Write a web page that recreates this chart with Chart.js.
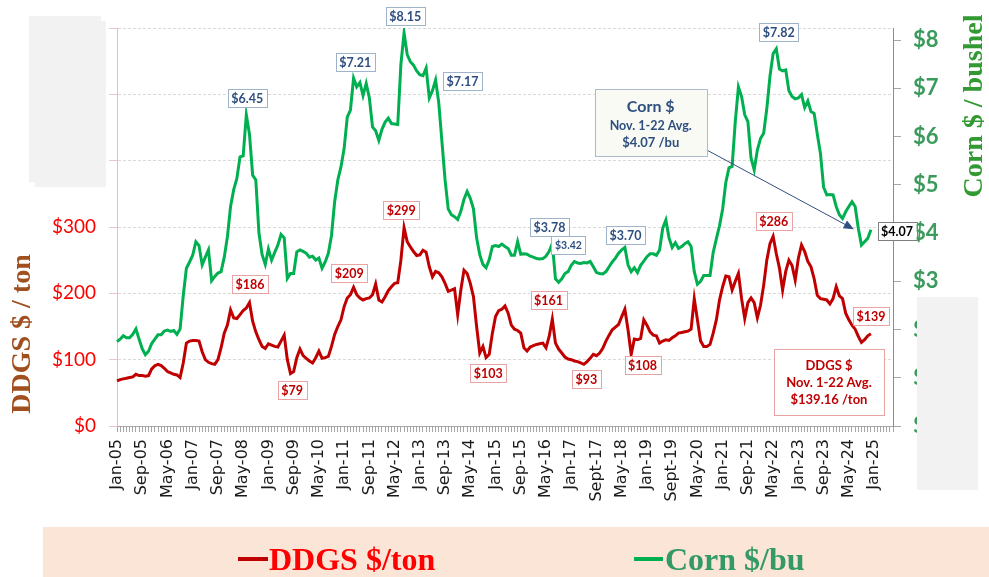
<!DOCTYPE html>
<meta charset="utf-8">
<style>
html, body {
  margin: 0;
  background: #fff;
}

#chart {
  display: block;
}
</style>
<body>

<canvas id="chart" width="989" height="577"></canvas>

<script src="https://cdn.jsdelivr.net/npm/chart.js@4.4.1/dist/chart.umd.min.js"></script>
<script type="text/javascript">
"use strict";

/* global Chart, document */

// monthly averages, Jan-05 onward
var ddgs = [
  68, 70, 71, 72, 73, 74, 78, 76, 76, 75, 76, 86,
  91, 93, 91, 87, 82, 80, 78, 77, 73, 95, 125, 128,
  129, 129, 128, 112, 100, 96, 94, 93, 100, 118, 140, 152,
  175, 163, 162, 168, 174, 178, 186, 158, 142, 130, 120, 117,
  124, 122, 120, 119, 128, 137, 100, 79, 82, 103, 116, 106,
  102, 98, 95, 103, 113, 102, 103, 105, 120, 138, 150, 160,
  180, 193, 198, 209, 198, 193, 190, 192, 193, 198, 214, 190,
  187, 195, 204, 210, 215, 216, 250, 299, 278, 270, 263, 257,
  258, 265, 262, 240, 225, 233, 231, 225, 215, 203, 205, 207,
  168, 205, 235, 230, 215, 195, 150, 110, 120, 103, 108, 140,
  165, 174, 176, 181, 170, 152, 146, 144, 140, 118, 113, 119,
  121, 123, 124, 125, 118, 135, 161, 125, 116, 110, 104, 101,
  100, 98, 97, 95, 93, 97, 102, 108, 106, 110, 117, 128,
  137, 145, 149, 153, 165, 176, 145, 108, 131, 130, 132, 160,
  152, 142, 137, 136, 125, 128, 130, 129, 133, 136, 140, 141,
  142, 143, 146, 192, 160, 128, 120, 120, 123, 140, 160, 190,
  210, 226, 225, 205, 218, 230, 192, 162, 186, 193, 186, 163,
  182, 212, 250, 275, 286, 260, 238, 205, 233, 250, 242, 220,
  253, 273, 263, 248, 240, 222, 197, 192, 191, 190, 184, 192,
  210, 196, 192, 170, 160, 152, 146, 135, 126, 130, 136, 139
];

var corn = [
  1.75, 1.80, 1.87, 1.83, 1.83, 1.90, 2.01, 1.80, 1.60, 1.48, 1.55, 1.71,
  1.80, 1.89, 1.89, 1.97, 1.99, 1.96, 1.98, 1.90, 2.01, 2.70, 3.27, 3.40,
  3.54, 3.82, 3.74, 3.34, 3.50, 3.65, 3.01, 3.10, 3.17, 3.20, 3.50, 3.92,
  4.55, 4.90, 5.13, 5.58, 5.60, 6.45, 6.05, 5.20, 5.10, 4.00, 3.55, 3.35,
  3.67, 3.44, 3.60, 3.75, 3.97, 3.90, 3.06, 3.16, 3.16, 3.61, 3.65, 3.62,
  3.58, 3.50, 3.52, 3.44, 3.48, 3.27, 3.40, 3.58, 3.95, 4.65, 5.10, 5.37,
  5.75, 6.40, 6.55, 7.21, 7.03, 7.12, 6.85, 7.10, 6.80, 6.20, 6.12, 5.92,
  6.15, 6.30, 6.38, 6.27, 6.26, 6.25, 7.50, 8.15, 7.70, 7.55, 7.48, 7.36,
  7.28, 7.26, 7.42, 6.80, 6.95, 7.17, 6.70, 5.90, 5.10, 4.50, 4.38, 4.34,
  4.28, 4.45, 4.70, 4.86, 4.72, 4.50, 3.90, 3.55, 3.35, 3.28, 3.45, 3.72,
  3.74, 3.72, 3.77, 3.72, 3.68, 3.54, 3.54, 3.82, 3.56, 3.57, 3.56, 3.52,
  3.50, 3.47, 3.46, 3.47, 3.52, 3.62, 3.78, 3.05, 2.98, 3.05, 3.16, 3.20,
  3.33, 3.41, 3.38, 3.37, 3.39, 3.38, 3.41, 3.30, 3.18, 3.16, 3.15, 3.20,
  3.30, 3.40, 3.48, 3.58, 3.65, 3.70, 3.34, 3.20, 3.28, 3.18, 3.33, 3.42,
  3.51, 3.57, 3.57, 3.54, 3.65, 4.10, 4.27, 3.90, 3.70, 3.80, 3.68, 3.72,
  3.78, 3.82, 3.72, 3.20, 2.94, 3.00, 3.12, 3.12, 3.12, 3.60, 3.88, 4.15,
  4.50, 5.05, 5.35, 5.38, 6.31, 7.03, 6.83, 6.45, 6.31, 5.55, 5.31, 5.72,
  5.96, 6.07, 6.58, 7.25, 7.72, 7.82, 7.40, 7.36, 7.38, 6.95, 6.83, 6.78,
  6.80, 6.87, 6.60, 6.74, 6.52, 6.48, 6.05, 5.65, 4.95, 4.79, 4.80, 4.79,
  4.55, 4.38, 4.30, 4.44, 4.55, 4.65, 4.55, 4.10, 3.75, 3.82, 3.89, 4.07
];

var tickLabels = [
  "Jan-05", "Sep-05", "May-06", "Jan-07", "Sep-07", "May-08", "Jan-09", "Sep-09",
  "May-10", "Jan-11", "Sep-11", "May-12", "Jan-13", "Sep-13", "May-14", "Jan-15",
  "Sep-15", "May-16", "Jan-17", "Sept-17", "May-18", "Jan-19", "Sept-19", "May-20",
  "Jan-21", "Sep-21", "May-22", "Jan-23", "Sep-23", "May-24", "Jan-25"
];

var cornTicks = [0, 1, 2, 3, 4, 5, 6, 7, 8];

var monthNames = ["Jan", "Feb", "Mar", "Apr", "May", "Jun", "Jul", "Aug", "Sep", "Oct", "Nov", "Dec"];

// axis runs Jan-05 .. Jul-25
var categories = [];
for (var k = 0; k < 247; k++) {
  categories.push(monthNames[k % 12] + "-" + String(2005 + Math.floor(k / 12)).slice(2));
}

// value tags: [text, month index, value] (tag centre, in axis units)
var cornTags = [
  ["$6.45", 41.3, 6.80],
  ["$7.21", 75.5, 7.54],
  ["$8.15", 91.4, 8.50],
  ["$7.17", 109.5, 7.15],
  ["$3.78", 137.1, 4.12],
  ["$3.70", 161.2, 3.96],
  ["$7.82", 209.8, 8.17]
];

var ddgsTags = [
  ["$186", 42.2, 214],
  ["$79", 55.5, 54],
  ["$209", 73.6, 231],
  ["$299", 90.1, 326],
  ["$103", 117.7, 80],
  ["$161", 136.8, 190],
  ["$93", 148.8, 71],
  ["$108", 166.6, 92],
  ["$286", 208.2, 309],
  ["$139", 239.0, 166]
];

var CORN_BLUE = "#2F4F80";
var DDGS_RED = "#C00000";

function tag(ctx, text, cx, cy, font, color, border, bg) {
  ctx.font = font;
  var w = ctx.measureText(text).width + 7;
  var h = 18;
  ctx.fillStyle = bg;
  ctx.fillRect(cx - w / 2, cy - h / 2, w, h);
  ctx.strokeStyle = border;
  ctx.lineWidth = 1;
  ctx.strokeRect(Math.round(cx - w / 2) + 0.5, Math.round(cy - h / 2) + 0.5, Math.round(w), h);
  ctx.fillStyle = color;
  ctx.textAlign = "center";
  ctx.textBaseline = "middle";
  ctx.fillText(text, cx, cy + 1);
}

function textBox(ctx, lines, x1, y1, x2, y2, color, border, bg) {
  ctx.fillStyle = bg;
  ctx.fillRect(x1, y1, x2 - x1, y2 - y1);
  ctx.strokeStyle = border;
  ctx.lineWidth = 1;
  ctx.strokeRect(Math.round(x1) + 0.5, Math.round(y1) + 0.5, Math.round(x2 - x1), Math.round(y2 - y1));
  ctx.fillStyle = color;
  ctx.textAlign = "center";
  ctx.textBaseline = "middle";
  lines.forEach(function (l) {
    ctx.font = l[1];
    ctx.fillText(l[0], (x1 + x2) / 2, l[2]);
  });
}

var decorations = {
  id: "decorations",
  afterDraw: function (chart) {
    var ctx = chart.ctx;
    var x = chart.scales.x, y = chart.scales.y, y1 = chart.scales.y1;
    ctx.save();

    // grey cover boxes, as in the source slide
    ctx.fillStyle = "#F2F2F2";
    ctx.fillRect(29, 16, 72, 166);
    ctx.fillRect(35, 21, 71, 166);
    ctx.fillRect(917, 297, 61, 193);

    // axis titles
    ctx.font = "bold 28px 'Liberation Serif'";
    ctx.textAlign = "center";
    ctx.textBaseline = "middle";
    ctx.save();
    ctx.translate(23, 334);
    ctx.rotate(-Math.PI / 2);
    ctx.fillStyle = "#A0501E";
    ctx.fillText("DDGS $ / ton", 0, 0);
    ctx.restore();
    ctx.save();
    ctx.translate(975, 106);
    ctx.rotate(-Math.PI / 2);
    ctx.fillStyle = "#339933";
    ctx.fillText("Corn $ / bushel", 0, 0);
    ctx.restore();

    // value tags
    cornTags.forEach(function (t) {
      tag(ctx, t[0], x.getPixelForValue(t[1]), y1.getPixelForValue(t[2]),
        "bold 12.5px Lato", CORN_BLUE, "#9FB3CB", "#FFFFFF");
    });
    tag(ctx, "$3.42", x.getPixelForValue(143.1), y1.getPixelForValue(3.75),
      "bold 10.5px Lato", CORN_BLUE, "#9FB3CB", "#FFFFFF");
    ddgsTags.forEach(function (t) {
      tag(ctx, t[0], x.getPixelForValue(t[1]), y.getPixelForValue(t[2]),
        "bold 12.5px Lato", DDGS_RED, "#E9A3A3", "#FFFFFF");
    });
    tag(ctx, "$4.07", x.getPixelForValue(247.3), y1.getPixelForValue(4.04),
      "bold 12.5px Lato", "#000000", "#7F7F7F", "#FFFFFF");

    // corn callout with arrow
    var bx1 = x.getPixelForValue(151.4), bx2 = x.getPixelForValue(187.0);
    var by1 = y1.getPixelForValue(6.98), by2 = y1.getPixelForValue(5.60);
    var ax = x.getPixelForValue(187.0), ay = y1.getPixelForValue(5.72);
    var tx = x.getPixelForValue(233.6), ty = y1.getPixelForValue(4.08);
    var ang = Math.atan2(ty - ay, tx - ax);
    ctx.strokeStyle = CORN_BLUE;
    ctx.lineWidth = 1;
    ctx.beginPath();
    ctx.moveTo(ax, ay);
    ctx.lineTo(tx - 8 * Math.cos(ang), ty - 8 * Math.sin(ang));
    ctx.stroke();
    ctx.fillStyle = CORN_BLUE;
    ctx.beginPath();
    ctx.moveTo(tx, ty);
    ctx.lineTo(tx - 11 * Math.cos(ang - 0.4), ty - 11 * Math.sin(ang - 0.4));
    ctx.lineTo(tx - 11 * Math.cos(ang + 0.4), ty - 11 * Math.sin(ang + 0.4));
    ctx.closePath();
    ctx.fill();
    textBox(ctx, [
      ["Corn $", "bold 16px Lato", by1 + 18],
      ["Nov. 1-22 Avg.", "bold 12.5px Lato", by1 + 37],
      ["$4.07 /bu", "bold 13px Lato", by1 + 54]
    ], bx1, by1, bx2, by2, CORN_BLUE, "#A9BCD0", "#F8FAF3");

    // ddgs callout
    var dx1 = x.getPixelForValue(208.2), dx2 = x.getPixelForValue(243.2);
    var dy1 = y.getPixelForValue(116), dy2 = y.getPixelForValue(16.6);
    textBox(ctx, [
      ["DDGS $", "bold 13px Lato", dy1 + 17],
      ["Nov. 1-22 Avg.", "bold 13px Lato", dy1 + 34],
      ["$139.16 /ton", "bold 13px Lato", dy1 + 51]
    ], dx1, dy1, dx2, dy2, DDGS_RED, "#E9A3A3", "#FFFFFF");

    // legend band
    ctx.fillStyle = "#FBE5D6";
    ctx.fillRect(43, 527, 946, 50);
    ctx.lineWidth = 4;
    ctx.strokeStyle = DDGS_RED;
    ctx.beginPath();
    ctx.moveTo(238, 559);
    ctx.lineTo(268, 559);
    ctx.stroke();
    ctx.strokeStyle = "#00B050";
    ctx.beginPath();
    ctx.moveTo(634, 559);
    ctx.lineTo(663, 559);
    ctx.stroke();
    ctx.font = "bold 32px 'Liberation Serif'";
    ctx.textAlign = "left";
    ctx.textBaseline = "alphabetic";
    ctx.fillStyle = "#FF0000";
    ctx.fillText("DDGS $/ton", 269, 570);
    ctx.fillStyle = "#339966";
    ctx.fillText("Corn $/bu", 665, 570);

    ctx.restore();
  }
};

var chart = new Chart(document.getElementById("chart"), {
  type: "line",
  data: {
    labels: categories,
    datasets: [
      {
        label: "DDGS $/ton",
        data: ddgs,
        yAxisID: "y",
        borderColor: DDGS_RED,
        borderWidth: 3,
        pointRadius: 0,
        tension: 0
      },
      {
        label: "Corn $/bu",
        data: corn,
        yAxisID: "y1",
        borderColor: "#00B050",
        borderWidth: 3,
        pointRadius: 0,
        tension: 0
      }
    ]
  },
  options: {
    responsive: false,
    animation: false,
    devicePixelRatio: 1,
    layout: { padding: { top: 28, bottom: 51, left: 0, right: 0 } },
    plugins: {
      legend: { display: false },
      tooltip: { enabled: false }
    },
    scales: {
      x: {
        grid: { drawOnChartArea: false, tickLength: 6, tickColor: "#A6A6A6" },
        border: { color: "#A6A6A6" },
        ticks: {
          autoSkip: false,
          minRotation: 90,
          maxRotation: 90,
          padding: 7,
          color: "#1A1A1A",
          font: { family: "DejaVu Sans", size: 16 },
          callback: function (value, index) {
            return index % 8 === 0 ? tickLabels[index / 8] : "";
          }
        },
        afterFit: function (scale) { scale.height = 100; }
      },
      y: {
        position: "left",
        min: 0,
        max: 600,
        grid: { color: "#D9D9D9", tickLength: 8, tickColor: "#F0C4C4" },
        border: { color: "#F4B8B8", dash: [3, 2] },
        ticks: {
          stepSize: 100,
          padding: 13,
          color: "#FF0000",
          font: { family: "Lato", size: 19 },
          callback: function (v) { return "$" + v; }
        },
        afterFit: function (scale) { scale.width = 117; }
      },
      y1: {
        position: "right",
        min: 0,
        max: 8.25,
        grid: { drawOnChartArea: false, tickLength: 8, tickColor: "#A6A6A6" },
        border: { color: "#8C8C8C" },
        ticks: {
          padding: 12,
          color: "#3A9B5C",
          font: { family: "Lato", size: 22, weight: "bold" },
          callback: function (v) { return "$" + v; }
        },
        afterBuildTicks: function (scale) {
          scale.ticks = cornTicks.map(function (v) { return { value: v }; });
        },
        afterFit: function (scale) { scale.width = 96; }
      }
    }
  },
  plugins: [decorations]
});
</script>
</body>
